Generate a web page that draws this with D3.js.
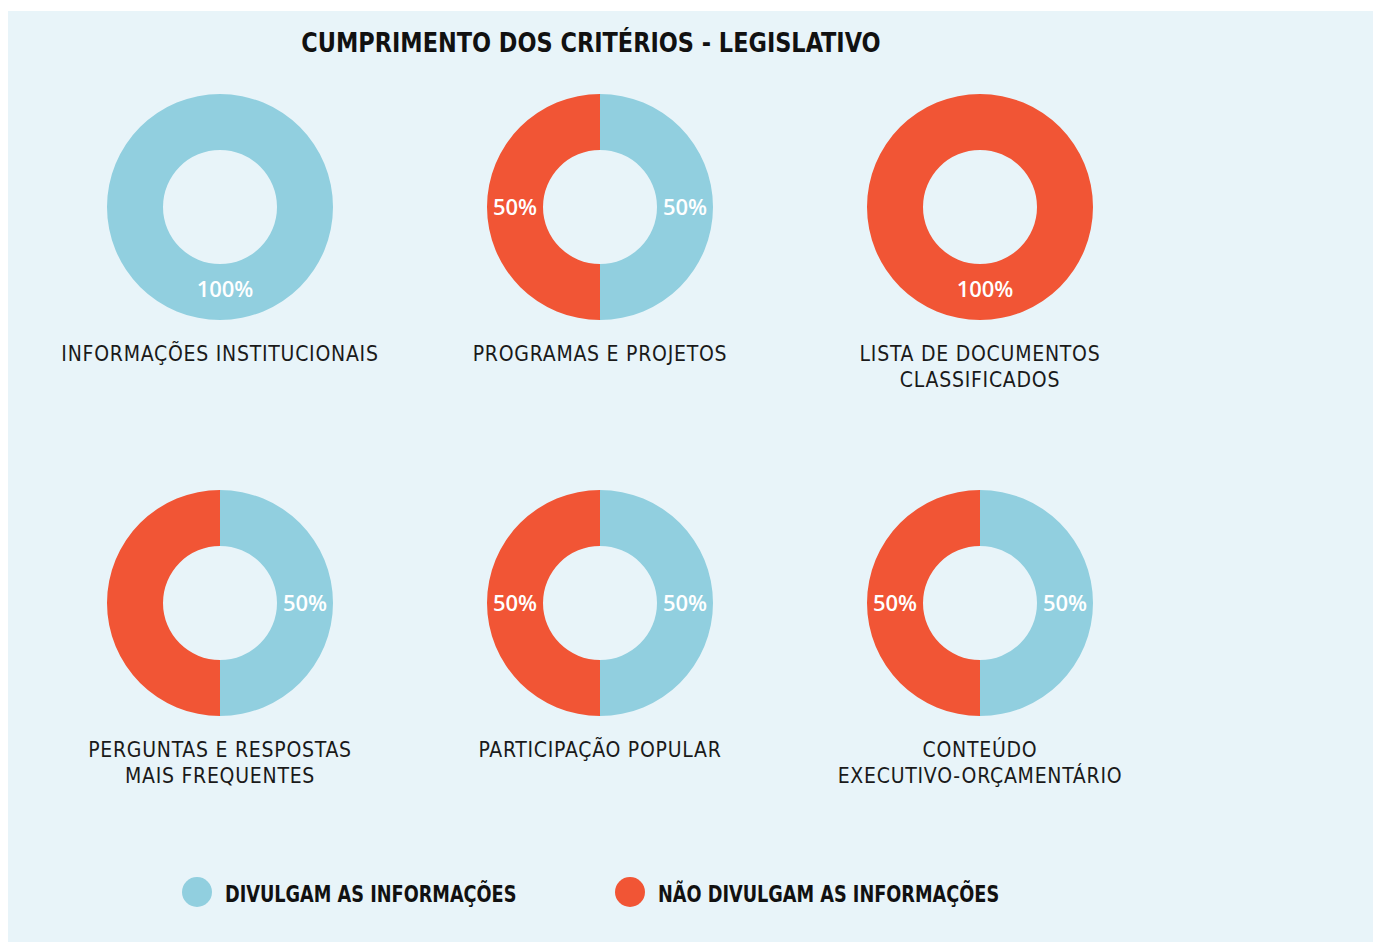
<!DOCTYPE html>
<html><head><meta charset="utf-8">
<script src="https://cdn.jsdelivr.net/npm/d3@7"></script>
<style>
html,body{margin:0;padding:0;background:#fff;}
</style></head>
<body>
<svg id="chart" width="1373" height="943"></svg>
<script>
const title = "CUMPRIMENTO DOS CRITÉRIOS - LEGISLATIVO";
const categories = [
  ["INFORMAÇÕES INSTITUCIONAIS"],
  ["PROGRAMAS E PROJETOS"],
  ["LISTA DE DOCUMENTOS", "CLASSIFICADOS"],
  ["PERGUNTAS E RESPOSTAS", "MAIS FREQUENTES"],
  ["PARTICIPAÇÃO POPULAR"],
  ["CONTEÚDO", "EXECUTIVO-ORÇAMENTÁRIO"]
];
const seriesNames = ["DIVULGAM AS INFORMAÇÕES", "NÃO DIVULGAM AS INFORMAÇÕES"];
const divulgam = [100, 50, 0, 50, 50, 50];
const naoDivulgam = [0, 50, 100, 50, 50, 50];
// labels printed in the original (null = not printed)
const labelDivulgam = ["100%", "50%", null, "50%", "50%", "50%"];
const labelNao = [null, "50%", "100%", null, "50%", "50%"];

const colors = ["#91cfdf", "#f15535"];
const condensed = "'DejaVu Sans Condensed','Liberation Sans Narrow',sans-serif";
const svg = d3.select("#chart");
svg.append("rect").attr("x", 8).attr("y", 11).attr("width", 1365).attr("height", 931).attr("fill", "#e8f4f9");

function squeeze(sel, f) {
  sel.each(function() {
    const w = this.getComputedTextLength();
    d3.select(this).attr("textLength", w * f).attr("lengthAdjust", "spacingAndGlyphs");
  });
}

svg.append("text").attr("x", 591).attr("y", 52).attr("text-anchor", "middle")
  .attr("font-family", condensed)
  .attr("font-weight", "bold").attr("font-size", 27).attr("fill", "#111").text(title)
  .call(squeeze, 0.923);

const col = d3.scalePoint().domain([0,1,2]).range([220, 980]);
const row = d3.scalePoint().domain([0,1]).range([207, 603]);
const outerR = 113, innerR = 57;
const pie = d3.pie().sort(null).value(d => d.v);
const arc = d3.arc().innerRadius(innerR).outerRadius(outerR);
const labelArc = d3.arc().innerRadius((innerR+outerR)/2).outerRadius((innerR+outerR)/2);

categories.forEach((cat, i) => {
  const cx = col(i % 3), cy = row(Math.floor(i / 3));
  const g = svg.append("g").attr("transform", `translate(${cx},${cy})`);
  const data = [
    {v: divulgam[i], c: colors[0], l: labelDivulgam[i]},
    {v: naoDivulgam[i], c: colors[1], l: labelNao[i]}
  ];
  const arcs = pie(data);
  g.selectAll("path").data(arcs).join("path").attr("d", arc).attr("fill", d => d.data.c);
  g.selectAll("text.pct").data(arcs.filter(d => d.data.l && d.data.v > 0)).join("text")
    .attr("class", "pct")
    .attr("transform", d => {
      const c = labelArc.centroid(d);
      const full = d.data.v === 100;
      return `translate(${c[0] + (full ? 5 : 0)},${c[1] - (full ? 3 : 0)})`;
    })
    .attr("text-anchor", "middle").attr("dy", "0.36em")
    .attr("font-family", "'Open Sans',sans-serif").attr("font-weight", 600)
    .attr("font-size", 22).attr("fill", "#fff").text(d => d.data.l);
  cat.forEach((line, k) => {
    g.append("text").attr("x", 0).attr("y", 154 + k * 26).attr("text-anchor", "middle")
      .attr("font-family", condensed).attr("letter-spacing", 0.75)
      .attr("font-size", 21).attr("fill", "#1a1a1a").text(line);
  });
});

const legX = [197, 630];
seriesNames.forEach((name, i) => {
  svg.append("ellipse").attr("cx", legX[i]).attr("cy", 892).attr("rx", 15).attr("ry", 15).attr("fill", colors[i]);
  svg.append("text").attr("x", legX[i] + 28).attr("y", 902)
    .attr("font-family", condensed)
    .attr("font-weight", "bold").attr("font-size", 23).attr("fill", "#111").text(name)
    .call(squeeze, 0.855);
});
</script>
</body></html>
